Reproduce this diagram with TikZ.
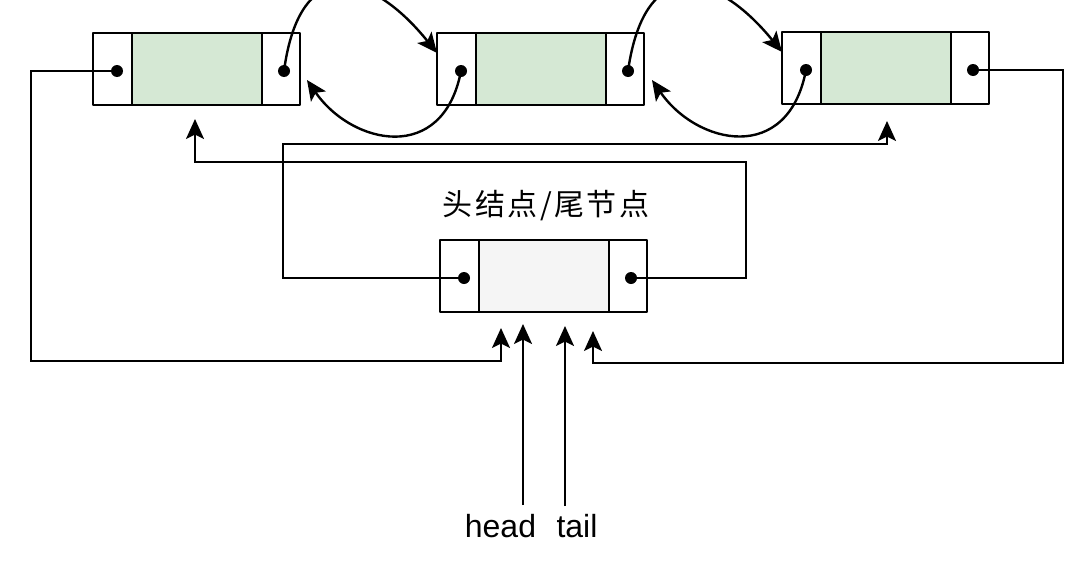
\documentclass[tikz,border=0pt]{standalone}
\usepackage{fontspec}
\setmainfont{Liberation Sans}
\newfontfamily\cjk[LetterSpace=8]{Noto Sans CJK SC}
\usetikzlibrary{arrows.meta}
\definecolor{datagreen}{HTML}{D5E8D4}
\definecolor{headfill}{HTML}{F5F5F5}
\newcommand\listbox[4]{%
  \fill[#4] (#2+39,#3) rectangle (#2+169,#3+72);
  \draw[boxline] (#2,#3) rectangle (#2+207,#3+72);
  \draw[boxline] (#2+39,#3) -- (#2+39,#3+72);
  \draw[boxline] (#2+169,#3) -- (#2+169,#3+72);
  \coordinate (#1l) at (#2+24,#3+38);
  \coordinate (#1r) at (#2+191,#3+38);
}
\begin{document}
\begin{tikzpicture}[x=1pt,y=-1pt,
  boxline/.style={line width=2.2pt, line join=round},
  link/.style={line width=2.4pt, -{Stealth[length=20pt,width=18pt,inset=4.5pt]}},
  dotmark/.style={fill=black}]
\useasboundingbox (0,0) rectangle (1086,562);
% list nodes
\listbox{a}{93}{33}{datagreen}
\listbox{b}{437}{33}{datagreen}
\listbox{c}{782}{32}{datagreen}
\listbox{h}{440}{240}{headfill}
% arrow tips
\coordinate (aIn) at (195,119);
\coordinate (cIn) at (887,121);
\coordinate (bFromA) at (437,53);
\coordinate (aFromB) at (307,80);
\coordinate (cFromB) at (782,52);
\coordinate (bFromC) at (652,80);
\coordinate (hInA) at (501,328);
\coordinate (hInC) at (593,331);
\coordinate (hInHead) at (523,324);
\coordinate (hInTail) at (565,326);
% labels
\node[font=\cjk\fontsize{30}{30}\selectfont] (title) at (546,206) {头结点/尾节点};
\node[font=\fontsize{32}{32}\selectfont, anchor=base, inner sep=0pt] (headlbl) at (500.5,537) {head};
\node[font=\fontsize{32}{32}\selectfont, anchor=base, inner sep=0pt] (taillbl) at (577,537) {tail};
\coordinate (headfoot) at (523,505);
\coordinate (tailfoot) at (565,506);
% curved links
\draw[link] (ar) .. controls (300,-48) and (372,-28) .. (bFromA);
\draw[link] (bl) .. controls (443,165) and (352,145) .. (aFromB);
\draw[link] (br) .. controls (645,-48) and (717,-28) .. (cFromB);
\draw[link] (cl) .. controls (788,165) and (697,145) .. (bFromC);
% orthogonal links
\draw[link] (al) -| (31,361) -| (hInA);
\draw[link] (cr) -| (1063,363) -| (hInC);
\draw[link] (hl) -| (283,144) -| (cIn);
\draw[link] (hr) -| (746,162) -| (aIn);
\draw[link] (headfoot) -- (hInHead);
\draw[link] (tailfoot) -- (hInTail);
% dots
\foreach \p in {al,ar,bl,br,cl,cr,hl,hr} \fill[dotmark] (\p) circle (6pt);
\end{tikzpicture}
\end{document}
